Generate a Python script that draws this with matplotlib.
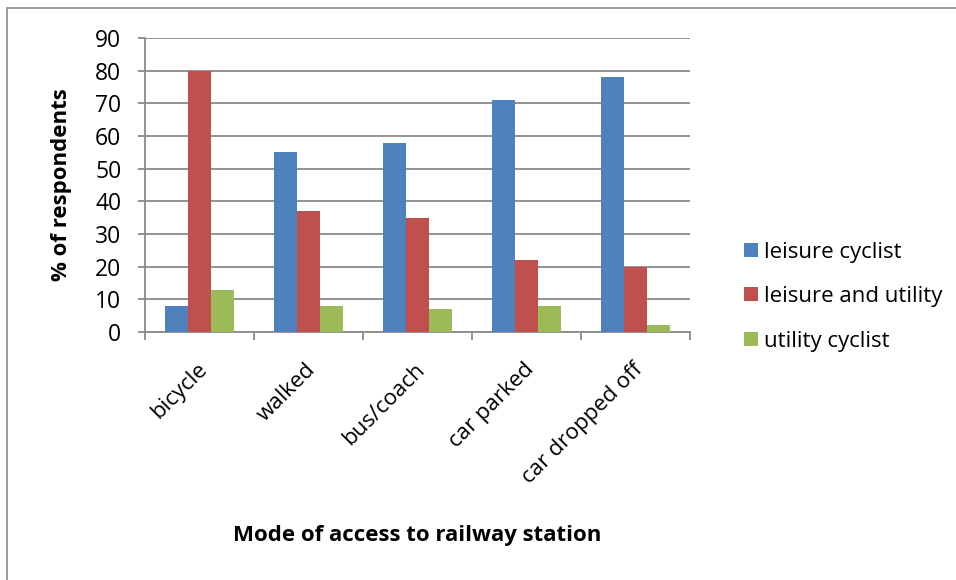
import numpy as np
import matplotlib.pyplot as plt
from matplotlib.patches import Rectangle

# ---------- DATA ----------
modes = ['bicycle', 'walked', 'bus/coach', 'car parked', 'car dropped off']
leisure = [8, 55, 58, 71, 78]
leisure_utility = [80, 37, 35, 22, 20]
utility = [13, 8, 7, 8, 2]
series_names = ['leisure cyclist', 'leisure and utility', 'utility cyclist']
colors = ['#4F81BD', '#C0504D', '#9BBB59']

plt.rcParams['font.family'] = ['Open Sans', 'DejaVu Sans']

fig = plt.figure(figsize=(9.56, 5.8), dpi=100)
ax = fig.add_axes([145 / 956, 1 - 332 / 580, 545 / 956, 294 / 580])

# outer chart border (only left/top visible in the reference)
fig.patches.append(Rectangle((7 / 956, -0.1), 1.2, 1 - 8 / 580 + 0.1,
                             transform=fig.transFigure, fill=False,
                             edgecolor='#8c8c8c', linewidth=1.2))

x = np.arange(len(modes))
w = 0.21
for i, (vals, name, c) in enumerate(zip([leisure, leisure_utility, utility], series_names, colors)):
    ax.bar(x + (i - 1) * w, vals, w, color=c, label=name, zorder=3)

ax.set_xlim(-0.5, len(modes) - 0.5)
ax.set_ylim(0, 90)
ax.set_yticks(range(0, 91, 10))
ax.yaxis.grid(True, color='#8a8a8a', linewidth=1.3, zorder=0)

# category boundary ticks on x axis
ax.set_xticks(np.arange(-0.5, len(modes), 1.0))
ax.set_xticklabels([])
ax.tick_params(axis='x', length=6, color='#8a8a8a', width=1.3)
ax.tick_params(axis='y', length=5, color='#8a8a8a', width=1.3, labelsize=16.5, pad=12)
for i, m in enumerate(modes):
    ax.text(i - 0.03, -8.3, m, rotation=45, ha='right', va='top',
            rotation_mode='anchor', fontsize=16)

for s in ['top', 'right']:
    ax.spines[s].set_visible(False)
for s in ['left', 'bottom']:
    ax.spines[s].set_color('#8a8a8a')
    ax.spines[s].set_linewidth(1.3)

fig.text(61 / 956, 1 - 185 / 580, '% of respondents', rotation=90,
         ha='center', va='center', fontsize=16, fontweight='bold')
fig.text(417 / 956, 1 - 535 / 580, 'Mode of access to railway station',
         ha='center', va='center', fontsize=16, fontweight='bold')

ax.legend(loc='center left', bbox_to_anchor=(1.063, 0.12), frameon=False,
          fontsize=16, handlelength=0.6, handleheight=0.6, handletextpad=0.3,
          labelspacing=1.05)

plt.savefig('out.png', dpi=100)
